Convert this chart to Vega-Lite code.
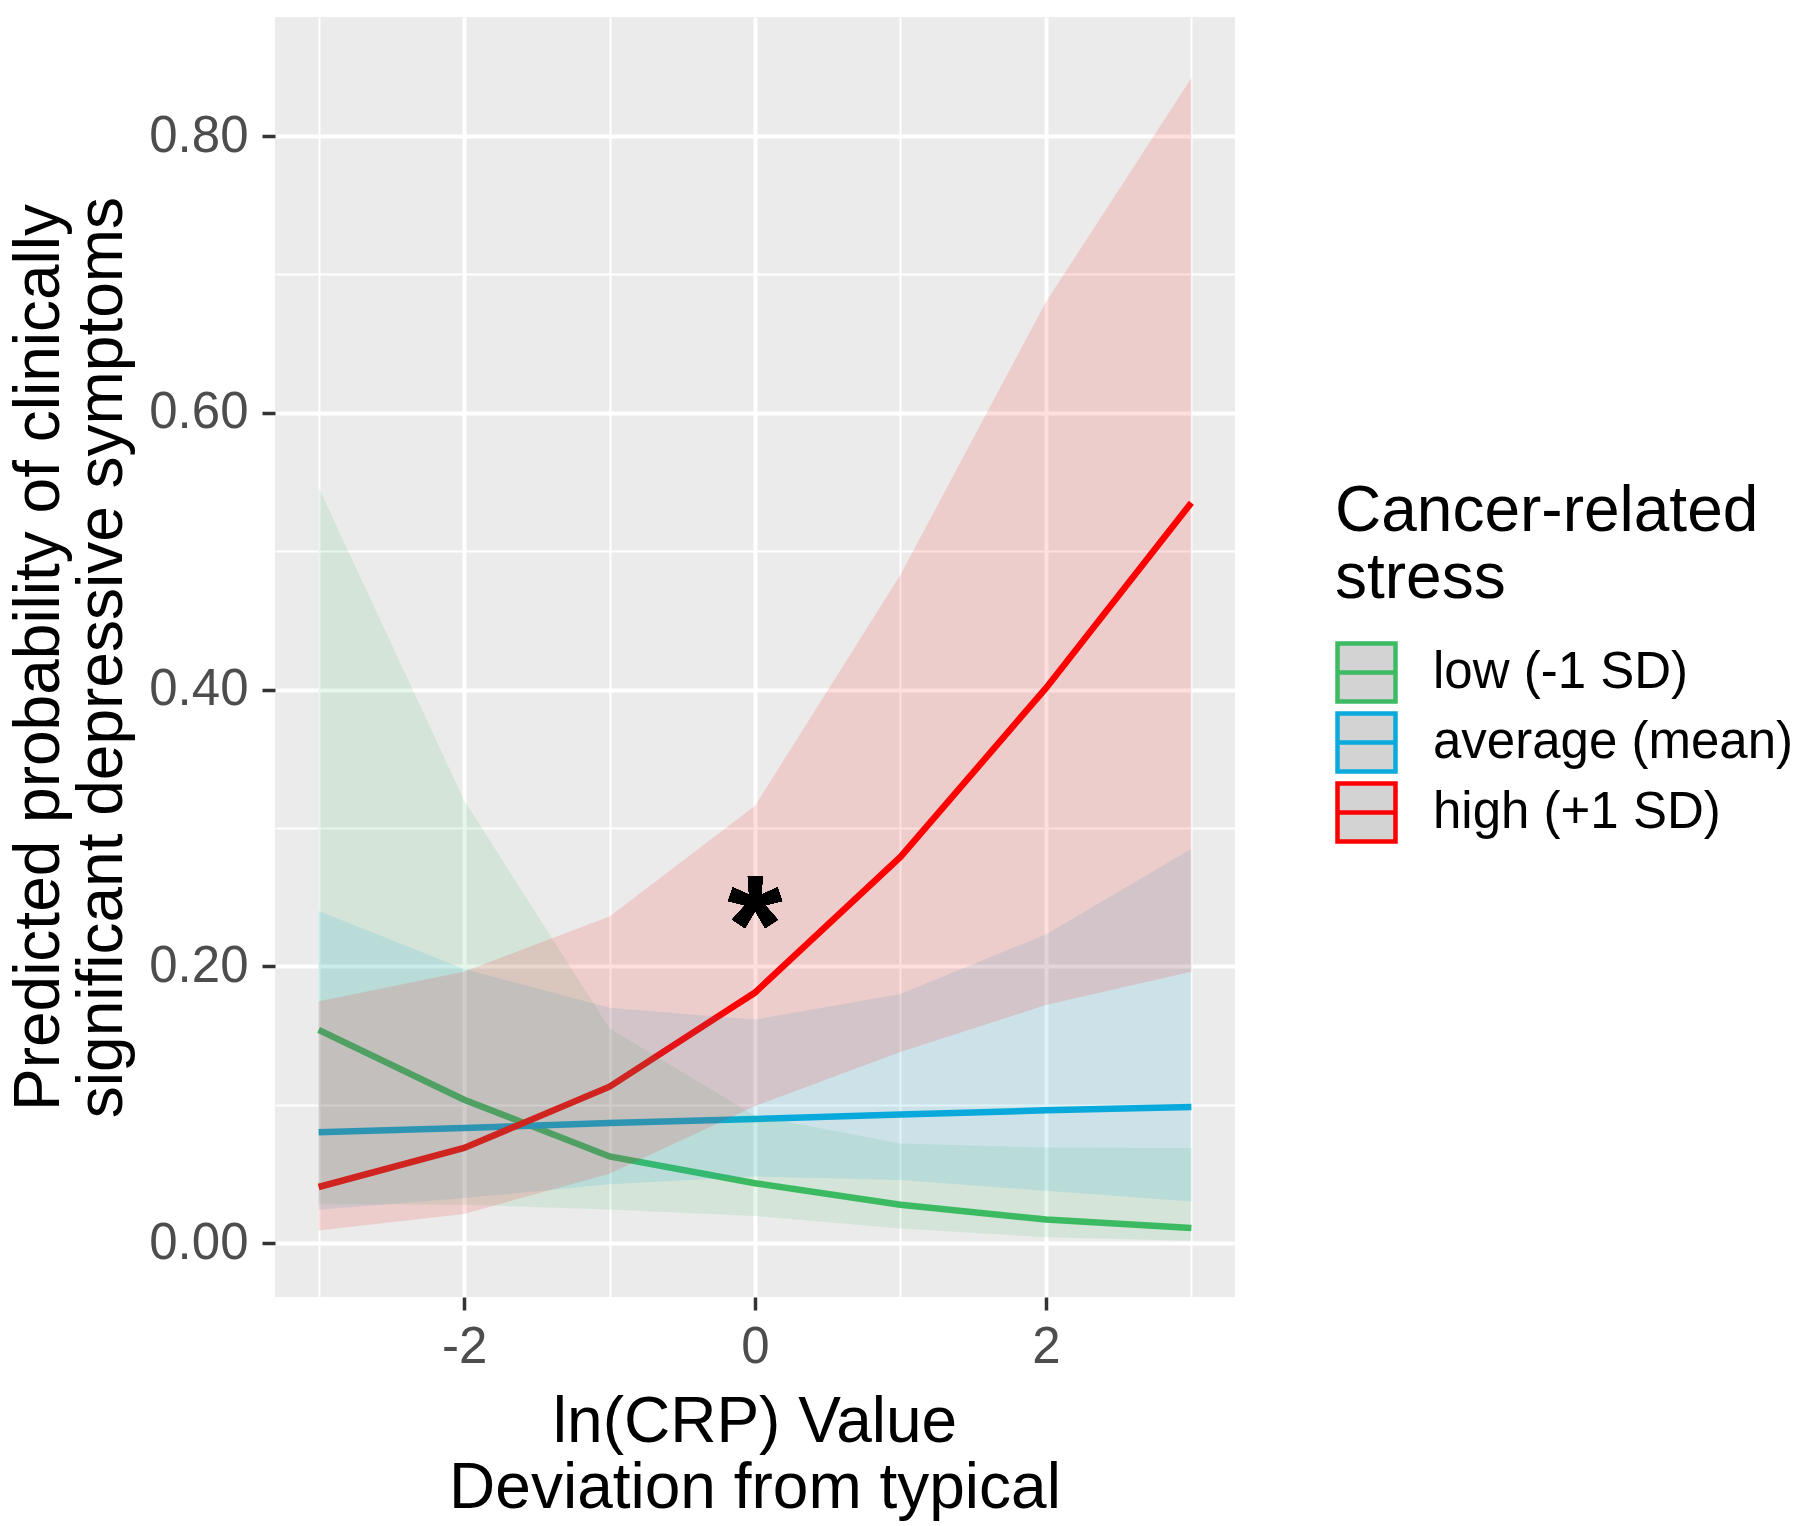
{
  "$schema": "https://vega.github.io/schema/vega-lite/v6.json",
  "autosize": {"type": "none"},
  "padding": {"left": 275, "top": 17, "right": 565, "bottom": 229},
  "width": 960,
  "height": 1280,
  "background": "white",
  "config": {
    "font": "Liberation Sans",
    "view": {"fill": "#EBEBEB", "stroke": null}
  },
  "datasets": {
    "pred": [
      {"x": -3, "stress": "low (-1 SD)", "fit": 0.154, "lo": 0.028, "hi": 0.546},
      {"x": -2, "stress": "low (-1 SD)", "fit": 0.1036, "lo": 0.0276, "hi": 0.320},
      {"x": -1, "stress": "low (-1 SD)", "fit": 0.0626, "lo": 0.0242, "hi": 0.155},
      {"x": 0, "stress": "low (-1 SD)", "fit": 0.0432, "lo": 0.0196, "hi": 0.092},
      {"x": 1, "stress": "low (-1 SD)", "fit": 0.0277, "lo": 0.0105, "hi": 0.072},
      {"x": 2, "stress": "low (-1 SD)", "fit": 0.0170, "lo": 0.0042, "hi": 0.069},
      {"x": 3, "stress": "low (-1 SD)", "fit": 0.0108, "lo": 0.0016, "hi": 0.0687},
      {"x": -3, "stress": "average (mean)", "fit": 0.080, "lo": 0.024, "hi": 0.240},
      {"x": -2, "stress": "average (mean)", "fit": 0.0831, "lo": 0.0325, "hi": 0.198},
      {"x": -1, "stress": "average (mean)", "fit": 0.0868, "lo": 0.0424, "hi": 0.170},
      {"x": 0, "stress": "average (mean)", "fit": 0.0897, "lo": 0.048, "hi": 0.1615},
      {"x": 1, "stress": "average (mean)", "fit": 0.0928, "lo": 0.0455, "hi": 0.180},
      {"x": 2, "stress": "average (mean)", "fit": 0.0959, "lo": 0.0378, "hi": 0.223},
      {"x": 3, "stress": "average (mean)", "fit": 0.0983, "lo": 0.030, "hi": 0.285},
      {"x": -3, "stress": "high (+1 SD)", "fit": 0.0405, "lo": 0.009, "hi": 0.1747},
      {"x": -2, "stress": "high (+1 SD)", "fit": 0.0687, "lo": 0.021, "hi": 0.196},
      {"x": -1, "stress": "high (+1 SD)", "fit": 0.113, "lo": 0.050, "hi": 0.236},
      {"x": 0, "stress": "high (+1 SD)", "fit": 0.181, "lo": 0.099, "hi": 0.316},
      {"x": 1, "stress": "high (+1 SD)", "fit": 0.279, "lo": 0.138, "hi": 0.483},
      {"x": 2, "stress": "high (+1 SD)", "fit": 0.401, "lo": 0.172, "hi": 0.680},
      {"x": 3, "stress": "high (+1 SD)", "fit": 0.535, "lo": 0.196, "hi": 0.842}
    ]
  },
  "data": {"name": "pred"},
  "resolve": {"legend": {"color": "independent"}},
  "encoding": {
    "x": {
      "field": "x", "type": "quantitative",
      "scale": {"domain": [-3.3, 3.3], "nice": false, "zero": false},
      "axis": {
        "values": [-3, -2, -1, 0, 1, 2, 3],
        "domain": false,
        "grid": true,
        "gridColor": "white",
        "gridWidth": {"condition": {"test": "round(datum.value) % 2 === 0", "value": 4}, "value": 2},
        "tickColor": "#333333",
        "tickWidth": 3.5,
        "tickSize": 13,
        "tickOpacity": {"condition": {"test": "round(datum.value) % 2 === 0", "value": 1}, "value": 0},
        "labelExpr": "datum.value === -2 ? '-2' : datum.value === 0 ? '0' : datum.value === 2 ? '2' : ''",
        "labelFontSize": 51,
        "labelColor": "#4D4D4D",
        "labelPadding": 12,
        "labelFlush": false,
        "title": ["ln(CRP) Value", "Deviation from typical"],
        "titleFontSize": 64,
        "titleFontWeight": "normal",
        "titleColor": "black",
        "titleLineHeight": 66,
        "titleBaseline": "alphabetic",
        "titleAlign": "center",
        "titleX": 479.5,
        "titleY": 144
      }
    },
    "y": {
      "type": "quantitative",
      "scale": {"domain": [-0.039, 0.886], "nice": false, "zero": false},
      "axis": {
        "values": [0, 0.1, 0.2, 0.3, 0.4, 0.5, 0.6, 0.7, 0.8],
        "domain": false,
        "grid": true,
        "gridColor": "white",
        "gridWidth": {"condition": {"test": "round(datum.value*10) % 2 === 0", "value": 4}, "value": 2},
        "tickColor": "#333333",
        "tickWidth": 3.5,
        "tickSize": 13,
        "tickOpacity": {"condition": {"test": "round(datum.value*10) % 2 === 0", "value": 1}, "value": 0},
        "labelExpr": "round(datum.value*10) % 2 === 0 ? format(datum.value, '.2f') : ''",
        "labelFontSize": 51,
        "labelColor": "#4D4D4D",
        "labelPadding": 14,
        "labelFlush": false,
        "labelBaseline": "middle",
        "title": ["Predicted probability of clinically", "significant depressive symptoms"],
        "titleFontSize": 64,
        "titleFontWeight": "normal",
        "titleColor": "black",
        "titleLineHeight": 63,
        "titleBaseline": "alphabetic",
        "titleAlign": "center",
        "titleAngle": -90,
        "titleX": -217,
        "titleY": 640
      }
    }
  },
  "layer": [
    {
      "mark": {"type": "line", "strokeWidth": 6.5},
      "encoding": {
        "y": {"field": "fit"},
        "order": {"field": "x", "type": "quantitative"},
        "color": {
          "field": "stress", "type": "nominal",
          "scale": {"domain": ["low (-1 SD)", "average (mean)", "high (+1 SD)"], "range": ["#3CBB62", "#0AAADC", "#FF0000"]},
          "legend": {
            "orient": "none",
            "legendX": 1060,
            "legendY": 463,
            "padding": 0,
            "title": ["Cancer-related", "stress"],
            "titleFontSize": 64,
            "titleFontWeight": "normal",
            "titleColor": "black",
            "titleLineHeight": 67,
            "titlePadding": 30,
            "titleLimit": 0,
            "labelFontSize": 51,
            "labelColor": "black",
            "labelLimit": 0,
            "labelOffset": 35,
            "rowPadding": -8,
            "symbolType": "M-1,-1H1V1H-1Z M-1,0H1",
            "symbolSize": 3364,
            "symbolStrokeWidth": 4.5,
            "symbolFillColor": "#D3D3D3",
            "symbolOpacity": 1
          }
        }
      }
    },
    {
      "mark": {"type": "area", "fillOpacity": 0.13},
      "encoding": {
        "y": {"field": "lo"},
        "y2": {"field": "hi"},
        "color": {
          "field": "stress", "type": "nominal",
          "scale": {"domain": ["low (-1 SD)", "average (mean)", "high (+1 SD)"], "range": ["#3CBB62", "#0AAADC", "#FF0000"]},
          "legend": null
        }
      }
    },
    {
      "mark": {"type": "text", "text": "*", "fontSize": 140, "fontWeight": "bold", "color": "black", "align": "center", "baseline": "alphabetic"},
      "encoding": {
        "x": {"datum": 0},
        "y": {"datum": 0.196}
      }
    }
  ]
}
